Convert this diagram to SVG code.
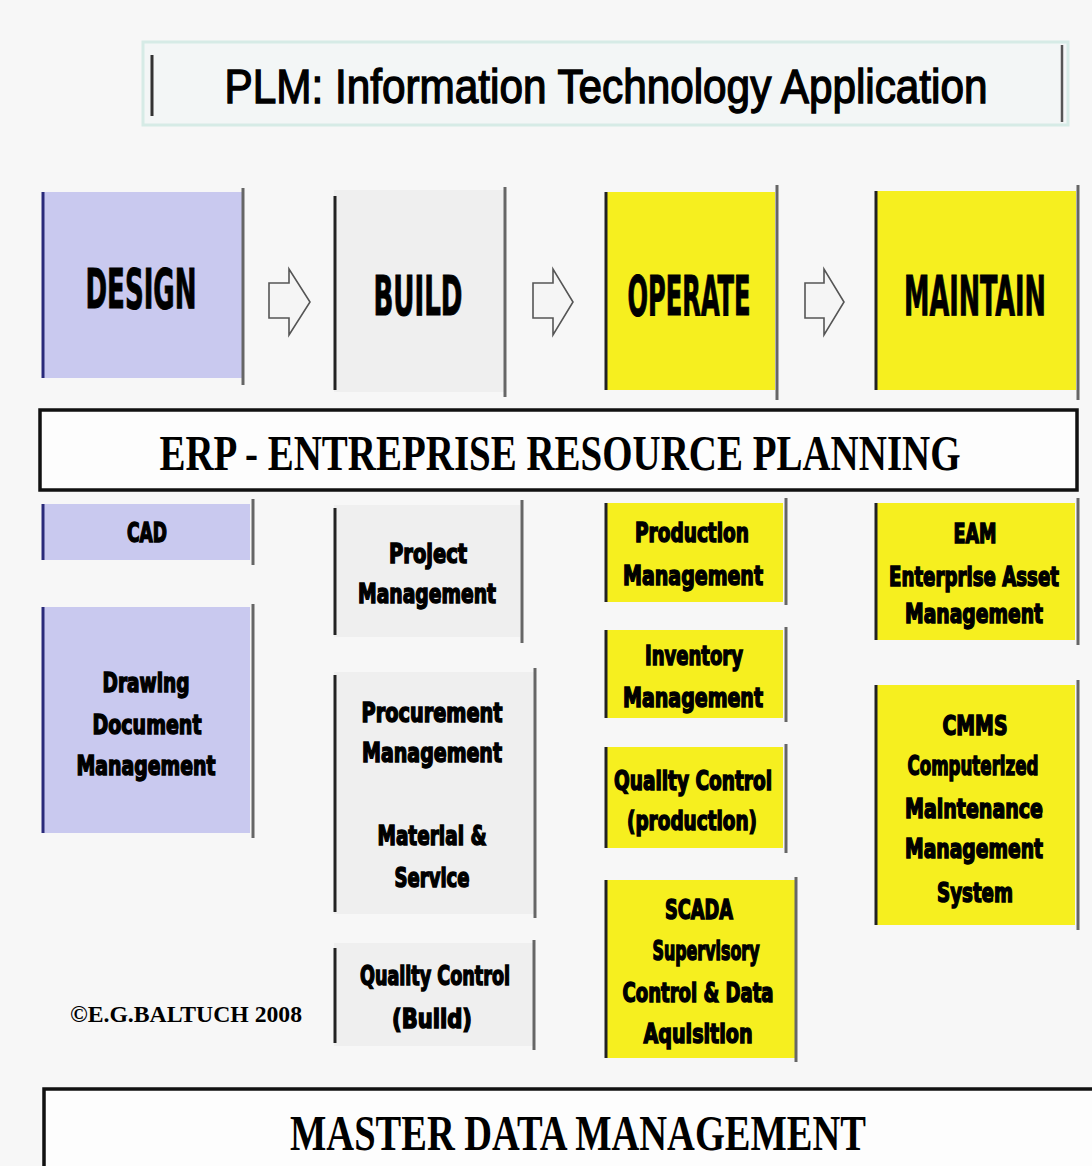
<svg xmlns="http://www.w3.org/2000/svg" width="1092" height="1166" viewBox="0 0 1092 1166">
<style>
.bg{fill:#f7f7f7}
.lav{fill:#c9c9ef}
.gry{fill:#efefef}
.yel{fill:#f6ef1f}
.edgeL{stroke:#222;stroke-width:3}
.edgeLB{stroke:#2a2a7a;stroke-width:3}
.edgeR{stroke:#666;stroke-width:3}
.big{font-family:'Liberation Sans Narrow','DejaVu Sans Condensed','Liberation Sans',sans-serif;font-weight:bold;font-size:56px;fill:#000;text-anchor:middle;stroke:#000;stroke-width:1}
.sm{font-family:'Liberation Sans Narrow','DejaVu Sans Condensed','Liberation Sans',sans-serif;font-weight:bold;font-size:27px;fill:#000;text-anchor:middle;stroke:#000;stroke-width:1.5}
.serif{font-family:'Liberation Serif','Times New Roman',serif;font-weight:bold;fill:#000;text-anchor:middle}
.arrow{fill:#f5f5f5;stroke:#555;stroke-width:1.6;stroke-linejoin:miter}
</style>
<rect class="bg" x="0" y="0" width="1092" height="1166"/>

<g id="header">
<rect x="143" y="42" width="925" height="83" fill="#f3f6f6" stroke="#d6ebe6" stroke-width="3"/>
<line x1="152" y1="55" x2="152" y2="116" stroke="#333" stroke-width="3"/>
<line x1="1062" y1="45" x2="1062" y2="122" stroke="#555" stroke-width="2.5"/>
<text x="606" y="103" font-family="'Liberation Sans',Arial,sans-serif" font-size="48" fill="#000" text-anchor="middle" textLength="763" lengthAdjust="spacingAndGlyphs" stroke="#000" stroke-width="1.4">PLM: Information Technology Application</text>
</g>

<g id="design">
<rect class="lav" x="42" y="192" width="200" height="186"/>
<line class="edgeLB" x1="43" y1="192" x2="43" y2="378"/>
<line class="edgeR" x1="243" y1="188" x2="243" y2="385"/>
<text class="big" x="141" y="308" textLength="111" lengthAdjust="spacingAndGlyphs">DESIGN</text>
</g>
<g id="build">
<rect class="gry" x="334" y="190" width="171" height="202"/>
<line class="edgeL" x1="335" y1="196" x2="335" y2="390" stroke="#444"/>
<line class="edgeR" x1="505" y1="187" x2="505" y2="397"/>
<text class="big" x="418" y="315" textLength="89" lengthAdjust="spacingAndGlyphs">BUILD</text>
</g>
<g id="operate">
<rect class="yel" x="605" y="192" width="170" height="198"/>
<line class="edgeL" x1="606" y1="192" x2="606" y2="390"/>
<line class="edgeR" x1="777" y1="185" x2="777" y2="400"/>
<text class="big" x="689" y="315" textLength="123" lengthAdjust="spacingAndGlyphs">OPERATE</text>
</g>
<g id="maintain">
<rect class="yel" x="875" y="191" width="201" height="199"/>
<line class="edgeL" x1="876" y1="191" x2="876" y2="390"/>
<line class="edgeR" x1="1078" y1="185" x2="1078" y2="400"/>
<text class="big" x="975" y="315" textLength="142" lengthAdjust="spacingAndGlyphs">MAINTAIN</text>
</g>

<g id="connectors">
<path class="arrow" d="M269,283 H289 V269 L310,302 L289,335 V318 H269 Z"/>
<path class="arrow" d="M533,283 H553 V269 L573,302 L553,335 V318 H533 Z"/>
<path class="arrow" d="M805,283 H824 V269 L844,302 L824,335 V318 H805 Z"/>
</g>

<g id="erp">
<rect x="40" y="410" width="1037" height="80" fill="#fdfdfd" stroke="#111" stroke-width="3.5"/>
<text class="serif" x="560" y="470" font-size="50" textLength="801" lengthAdjust="spacingAndGlyphs">ERP - ENTREPRISE RESOURCE PLANNING</text>
</g>

<g id="cad">
<rect class="lav" x="42" y="504" width="208" height="56"/>
<line class="edgeLB" x1="43" y1="504" x2="43" y2="560"/>
<line class="edgeR" x1="253" y1="499" x2="253" y2="565"/>
<text class="sm" x="147" y="542" textLength="40" lengthAdjust="spacingAndGlyphs">CAD</text>
</g>
<g id="drawing-doc">
<rect class="lav" x="42" y="607" width="208" height="226"/>
<line class="edgeLB" x1="43" y1="607" x2="43" y2="833"/>
<line class="edgeR" x1="253" y1="604" x2="253" y2="838"/>
<text class="sm" x="146" y="692" textLength="87" lengthAdjust="spacingAndGlyphs">Drawing</text>
<text class="sm" x="147" y="734" textLength="109" lengthAdjust="spacingAndGlyphs">Document</text>
<text class="sm" x="146" y="775" textLength="139" lengthAdjust="spacingAndGlyphs">Management</text>
</g>

<g id="project-mgmt">
<rect class="gry" x="334" y="505" width="186" height="132"/>
<line class="edgeL" x1="335" y1="508" x2="335" y2="635" stroke="#444"/>
<line class="edgeR" x1="522" y1="500" x2="522" y2="643"/>
<text class="sm" x="428" y="563" textLength="78" lengthAdjust="spacingAndGlyphs">Project</text>
<text class="sm" x="427" y="603" textLength="138" lengthAdjust="spacingAndGlyphs">Management</text>
</g>
<g id="procurement">
<rect class="gry" x="334" y="672" width="200" height="242"/>
<line class="edgeL" x1="335" y1="675" x2="335" y2="912" stroke="#444"/>
<line class="edgeR" x1="535" y1="668" x2="535" y2="918"/>
<text class="sm" x="432" y="722" textLength="141" lengthAdjust="spacingAndGlyphs">Procurement</text>
<text class="sm" x="432" y="762" textLength="140" lengthAdjust="spacingAndGlyphs">Management</text>
<text class="sm" x="432" y="845" textLength="109" lengthAdjust="spacingAndGlyphs">Material &amp;</text>
<text class="sm" x="432" y="887" textLength="75" lengthAdjust="spacingAndGlyphs">Service</text>
</g>
<g id="qc-build">
<rect class="gry" x="334" y="943" width="199" height="103"/>
<line class="edgeL" x1="335" y1="948" x2="335" y2="1043" stroke="#444"/>
<line class="edgeR" x1="534" y1="940" x2="534" y2="1050"/>
<text class="sm" x="435" y="985" textLength="150" lengthAdjust="spacingAndGlyphs">Quality Control</text>
<text class="sm" x="432" y="1028" textLength="80" lengthAdjust="spacingAndGlyphs">(Build)</text>
</g>

<g id="production">
<rect class="yel" x="605" y="503" width="178" height="99"/>
<line class="edgeL" x1="606" y1="503" x2="606" y2="602"/>
<line class="edgeR" x1="786" y1="498" x2="786" y2="605"/>
<text class="sm" x="692" y="542" textLength="114" lengthAdjust="spacingAndGlyphs">Production</text>
<text class="sm" x="693" y="585" textLength="140" lengthAdjust="spacingAndGlyphs">Management</text>
</g>
<g id="inventory">
<rect class="yel" x="605" y="630" width="178" height="88"/>
<line class="edgeL" x1="606" y1="630" x2="606" y2="718"/>
<line class="edgeR" x1="786" y1="627" x2="786" y2="722"/>
<text class="sm" x="694" y="665" textLength="98" lengthAdjust="spacingAndGlyphs">Inventory</text>
<text class="sm" x="693" y="707" textLength="140" lengthAdjust="spacingAndGlyphs">Management</text>
</g>
<g id="qc-production">
<rect class="yel" x="605" y="747" width="178" height="101"/>
<line class="edgeL" x1="606" y1="747" x2="606" y2="848"/>
<line class="edgeR" x1="786" y1="744" x2="786" y2="853"/>
<text class="sm" x="693" y="790" textLength="158" lengthAdjust="spacingAndGlyphs">Quality Control</text>
<text class="sm" x="692" y="830" textLength="130" lengthAdjust="spacingAndGlyphs">(production)</text>
</g>
<g id="scada">
<rect class="yel" x="605" y="880" width="190" height="178"/>
<line class="edgeL" x1="606" y1="880" x2="606" y2="1058"/>
<line class="edgeR" x1="796" y1="877" x2="796" y2="1062"/>
<text class="sm" x="699" y="919" textLength="68" lengthAdjust="spacingAndGlyphs">SCADA</text>
<text class="sm" x="706" y="960" textLength="107" lengthAdjust="spacingAndGlyphs">Supervisory</text>
<text class="sm" x="698" y="1002" textLength="151" lengthAdjust="spacingAndGlyphs">Control &amp; Data</text>
<text class="sm" x="698" y="1043" textLength="109" lengthAdjust="spacingAndGlyphs">Aquisition</text>
</g>

<g id="eam">
<rect class="yel" x="875" y="503" width="200" height="137"/>
<line class="edgeL" x1="876" y1="503" x2="876" y2="640"/>
<line class="edgeR" x1="1078" y1="498" x2="1078" y2="645"/>
<text class="sm" x="975" y="543" textLength="43" lengthAdjust="spacingAndGlyphs">EAM</text>
<text class="sm" x="974" y="586" textLength="170" lengthAdjust="spacingAndGlyphs">Enterprise Asset</text>
<text class="sm" x="974" y="623" textLength="138" lengthAdjust="spacingAndGlyphs">Management</text>
</g>
<g id="cmms">
<rect class="yel" x="875" y="685" width="200" height="240"/>
<line class="edgeL" x1="876" y1="685" x2="876" y2="925"/>
<line class="edgeR" x1="1078" y1="680" x2="1078" y2="930"/>
<text class="sm" x="975" y="735" textLength="65" lengthAdjust="spacingAndGlyphs">CMMS</text>
<text class="sm" x="973" y="775" textLength="131" lengthAdjust="spacingAndGlyphs">Computerized</text>
<text class="sm" x="974" y="818" textLength="138" lengthAdjust="spacingAndGlyphs">Maintenance</text>
<text class="sm" x="974" y="858" textLength="138" lengthAdjust="spacingAndGlyphs">Management</text>
<text class="sm" x="975" y="902" textLength="76" lengthAdjust="spacingAndGlyphs">System</text>
</g>

<g id="copyright">
<text class="serif" x="186" y="1022" font-size="24" textLength="232" lengthAdjust="spacingAndGlyphs">©E.G.BALTUCH  2008</text>
</g>

<g id="mdm">
<rect x="44" y="1089" width="1060" height="90" fill="#fdfdfd" stroke="#111" stroke-width="3.5"/>
<text class="serif" x="578" y="1150" font-size="50" textLength="576" lengthAdjust="spacingAndGlyphs">MASTER DATA MANAGEMENT</text>
</g>
</svg>
